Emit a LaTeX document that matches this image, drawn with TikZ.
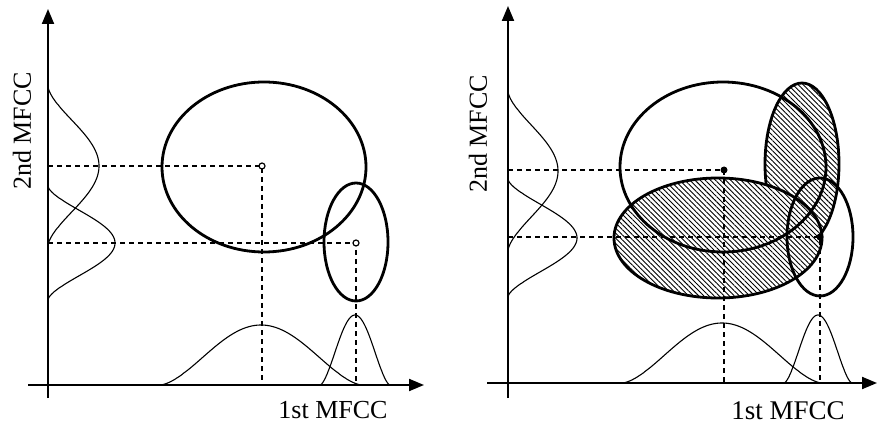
\documentclass[tikz,border=0pt]{standalone}
\usepackage{fontspec}
\setmainfont{Liberation Serif}
\usetikzlibrary{shapes.geometric,patterns.meta,arrows.meta}
\begin{document}
\begin{tikzpicture}[x=1pt,y=-1pt,
  declare function={bump(\u)=((1+cos(180*\u))/2+0.00001)^0.8;},
  axisline/.style={line width=2pt, -{Triangle[length=15pt,width=12pt]}},
  blob/.style={ellipse, draw, line width=2.8pt, inner sep=0pt, outer sep=0pt},
  hatched/.style={blob, preaction={fill=white}, pattern={Lines[angle=-45,distance=3.6pt,line width=0.9pt]}},
  guide/.style={line width=1.1pt, dash pattern=on 5pt off 4pt},
  curve/.style={line width=1.1pt},
  meanopen/.style={circle, draw, fill=white, line width=1.2pt, inner sep=0pt, minimum size=6pt},
  meanfill/.style={circle, fill=black, inner sep=0pt, minimum size=7pt},
  lab/.style={font=\fontsize{26}{28}\selectfont, inner sep=0pt}
]
\useasboundingbox (0,0) rectangle (877,427);

% ---------------- left panel ----------------
\coordinate (Yb1) at (48,398);
\coordinate (Yt1) at (48,9);
\coordinate (Xl1) at (28,385);
\coordinate (Xr1) at (424,385);

\node[blob, minimum width=204pt, minimum height=170pt] (E1) at (264,167) {};
\node[blob, minimum width=64pt, minimum height=118pt] (E2) at (356,242) {};

\coordinate (a1y) at (48,166);
\coordinate (a1x) at (262,385);
\coordinate (a2y) at (48,243);
\coordinate (a2x) at (356,385);
\draw[guide] (a1y) -- (262,166) -- (a1x);
\draw[guide] (a2y) -- (356,243) -- (a2x);
\node[meanopen] (m1) at (262,166) {};
\node[meanopen] (m2) at (356,243) {};

\draw[curve] plot[domain=-1:1, samples=120, variable=\u] ({48+51*bump(\u)}, {166+80*\u});
\draw[curve] plot[domain=-1:1, samples=120, variable=\u] ({48+67*bump(\u)}, {243+57*\u});
\draw[curve] plot[domain=-1:1, samples=120, variable=\u] ({261+101*\u}, {385-60*bump(\u)});
\draw[curve] plot[domain=-1:1, samples=120, variable=\u] ({355+35*\u}, {385-70*bump(\u)});

\draw[axisline] (Yb1) -- (Yt1);
\draw[axisline] (Xl1) -- (Xr1);

\node[lab, rotate=90] (ylab1) at (22,131) {2nd MFCC};
\node[lab] (xlab1) at (333,410) {1st MFCC};

% ---------------- right panel ----------------
\coordinate (Yb2) at (508,398);
\coordinate (Yt2) at (508,6);
\coordinate (Xl2) at (487,383);
\coordinate (Xr2) at (877,383);

\node[hatched, minimum width=74pt, minimum height=162pt] (H1) at (802,164) {};
\node[hatched, minimum width=208pt, minimum height=120pt] (H2) at (718,238) {};
\node[blob, minimum width=206pt, minimum height=170pt] (E3) at (723,167) {};
\node[blob, minimum width=66pt, minimum height=118pt] (E4) at (820,237) {};

\coordinate (b1y) at (508,170);
\coordinate (b1x) at (724,383);
\coordinate (b2y) at (508,237);
\coordinate (b2x) at (820,383);
\draw[guide] (b1y) -- (724,170) -- (b1x);
\draw[guide] (b2y) -- (820,237) -- (b2x);
\node[meanfill] (m3) at (724,170) {};
\node[meanfill] (m4) at (820,237) {};

\draw[curve] plot[domain=-1:1, samples=120, variable=\u] ({508+50*bump(\u)}, {171+80*\u});
\draw[curve] plot[domain=-1:1, samples=120, variable=\u] ({508+69*bump(\u)}, {238+59*\u});
\draw[curve] plot[domain=-1:1, samples=120, variable=\u] ({722+100*\u}, {383-60*bump(\u)});
\draw[curve] plot[domain=-1:1, samples=120, variable=\u] ({818+34*\u}, {383-68*bump(\u)});

\draw[axisline] (Yb2) -- (Yt2);
\draw[axisline] (Xl2) -- (Xr2);

\node[lab, rotate=90] (ylab2) at (478,134) {2nd MFCC};
\node[lab, font=\fontsize{27}{29}\selectfont] (xlab2) at (788,411) {1st MFCC};
\end{tikzpicture}
\end{document}
